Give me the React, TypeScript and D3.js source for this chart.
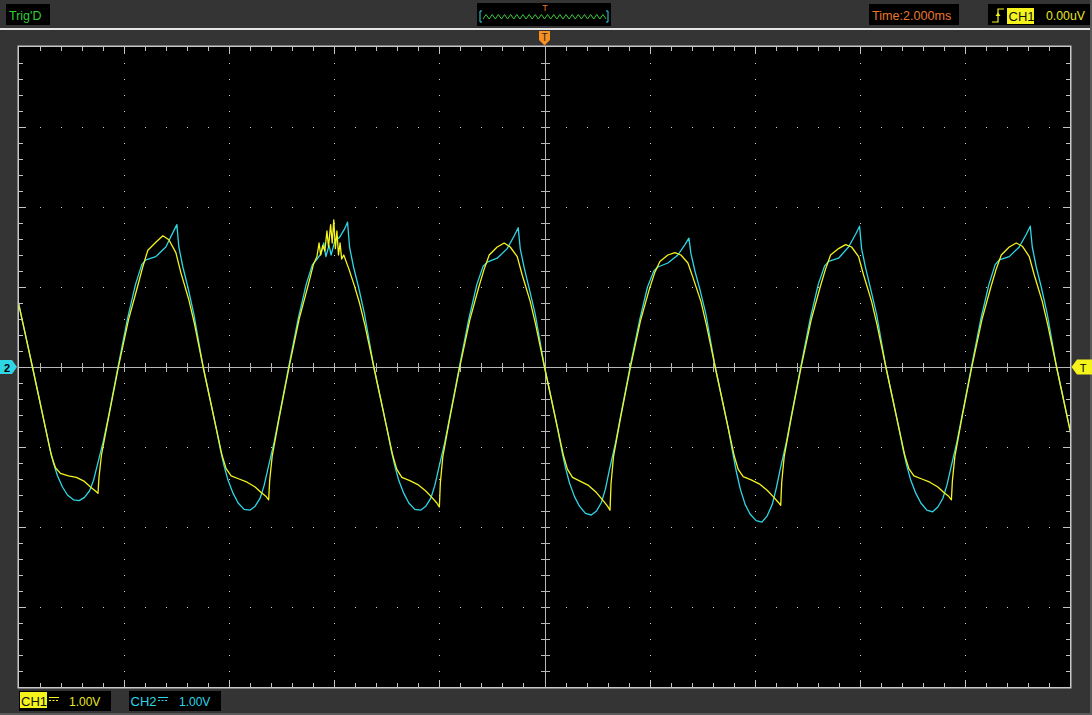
import React from "react";
import * as d3 from "d3";

// ---------- data ----------
const timeDomain: [number, number] = [-10, 10]; // ms  (2.000 ms / div, 10 div)
const voltDomain: [number, number] = [-4, 4]; // V   (1.00 V / div, 8 div)

const statusLabels = ["Trig'D", "Time:2.000ms", "CH1", "0.00uV"];
const channelNames = ["CH1", "CH2"];
const channelScales = ["1.00V", "1.00V"];

// CH1 (yellow) [time ms, volts]
const ch1Points: [number, number][] = [
  [-10.05, 0.92], [-9.9, 0.47],
  [-9.744, 0.0], [-9.63, -0.35], [-9.497, -0.76], [-9.382, -1.11], [-9.306, -1.26], [-9.211, -1.33],
  [-9.059, -1.36], [-8.907, -1.38], [-8.755, -1.43], [-8.64, -1.5], [-8.545, -1.55], [-8.497, -1.58],
  [-8.478, -1.38], [-8.431, -1.1], [-8.298, -0.64], [-8.108, 0.0], [-7.917, 0.59], [-7.746, 1.0],
  [-7.646, 1.25], [-7.548, 1.46], [-7.396, 1.56], [-7.263, 1.64], [-7.148, 1.59], [-7.015, 1.43],
  [-6.92, 1.18], [-6.768, 0.84], [-6.664, 0.55],
  [-6.496, 0.0], [-6.382, -0.35], [-6.249, -0.76], [-6.134, -1.11], [-6.058, -1.27], [-5.963, -1.36],
  [-5.811, -1.4], [-5.659, -1.44], [-5.507, -1.5], [-5.392, -1.57], [-5.297, -1.62], [-5.249, -1.66],
  [-5.23, -1.42], [-5.183, -1.12], [-5.05, -0.64], [-4.86, 0.0], [-4.669, 0.6], [-4.498, 1.02],
  [-4.398, 1.28], [-4.33, 1.38], [-4.29, 1.55], [-4.26, 1.4], [-4.22, 1.52], [-4.18, 1.45], [-4.14, 1.7],
  [-4.11, 1.5], [-4.07, 1.78], [-4.04, 1.55], [-4.01, 1.84], [-3.98, 1.48], [-3.95, 1.7], [-3.92, 1.4],
  [-3.89, 1.55], [-3.86, 1.35], [-3.82, 1.4], [-3.72, 1.22], [-3.62, 1.02], [-3.52, 0.8], [-3.416, 0.52],
  [-3.248, 0.0], [-3.134, -0.35], [-3.001, -0.76], [-2.886, -1.11], [-2.81, -1.28], [-2.715, -1.38],
  [-2.563, -1.42], [-2.411, -1.47], [-2.259, -1.55], [-2.144, -1.63], [-2.049, -1.7], [-2.001, -1.75],
  [-1.982, -1.45], [-1.935, -1.12], [-1.802, -0.64], [-1.612, 0.0], [-1.421, 0.59], [-1.25, 1.0],
  [-1.15, 1.22], [-1.052, 1.4], [-0.9, 1.5], [-0.767, 1.55], [-0.652, 1.5], [-0.519, 1.38],
  [-0.424, 1.15], [-0.272, 0.82], [-0.168, 0.53],
  [0.0, 0.0], [0.114, -0.35], [0.247, -0.76], [0.362, -1.11], [0.438, -1.28], [0.533, -1.38],
  [0.685, -1.43], [0.837, -1.48], [0.989, -1.57], [1.104, -1.66], [1.199, -1.74], [1.247, -1.79],
  [1.266, -1.46], [1.313, -1.12], [1.446, -0.64], [1.636, 0.0], [1.827, 0.58], [1.998, 0.98],
  [2.098, 1.18], [2.196, 1.32], [2.348, 1.4], [2.481, 1.43], [2.596, 1.4], [2.729, 1.3],
  [2.824, 1.12], [2.976, 0.82], [3.08, 0.53],
  [3.248, 0.0], [3.362, -0.35], [3.495, -0.76], [3.61, -1.11], [3.686, -1.28], [3.781, -1.37],
  [3.933, -1.41], [4.085, -1.46], [4.237, -1.54], [4.352, -1.62], [4.447, -1.69], [4.495, -1.73],
  [4.514, -1.44], [4.561, -1.12], [4.694, -0.64], [4.884, 0.0], [5.075, 0.59], [5.246, 1.0],
  [5.346, 1.22], [5.444, 1.4], [5.596, 1.48], [5.729, 1.53], [5.844, 1.5], [5.977, 1.38],
  [6.072, 1.15], [6.224, 0.82], [6.328, 0.53],
  [6.496, 0.0], [6.61, -0.35], [6.743, -0.76], [6.858, -1.11], [6.934, -1.27], [7.029, -1.36],
  [7.181, -1.4], [7.333, -1.44], [7.485, -1.5], [7.6, -1.57], [7.695, -1.62], [7.743, -1.66],
  [7.762, -1.42], [7.809, -1.12], [7.942, -0.64], [8.132, 0.0], [8.323, 0.59], [8.494, 1.0],
  [8.594, 1.22], [8.692, 1.4], [8.844, 1.5], [8.977, 1.55], [9.092, 1.51], [9.225, 1.38],
  [9.32, 1.15], [9.472, 0.82], [9.576, 0.53],
  [9.744, 0.0], [9.858, -0.35], [9.991, -0.76], [10.05, -0.95],
];

// CH2 (cyan) [time ms, volts]
const ch2Points: [number, number][] = [
  [-10.05, 0.92], [-9.9, 0.47],
  [-9.744, 0.0], [-9.63, -0.35], [-9.497, -0.76], [-9.414, -1.02], [-9.344, -1.2], [-9.268, -1.36],
  [-9.173, -1.5], [-9.078, -1.6], [-8.964, -1.66], [-8.854, -1.67], [-8.754, -1.63], [-8.659, -1.55],
  [-8.583, -1.42], [-8.507, -1.22], [-8.393, -0.92], [-8.298, -0.62], [-8.117, 0.0], [-7.936, 0.6],
  [-7.784, 1.03], [-7.664, 1.28], [-7.586, 1.34], [-7.396, 1.38], [-7.206, 1.5], [-7.072, 1.68],
  [-6.996, 1.78], [-6.958, 1.5], [-6.882, 1.25], [-6.787, 1.0], [-6.673, 0.66],
  [-6.496, 0.0], [-6.382, -0.35], [-6.249, -0.76], [-6.166, -1.04], [-6.096, -1.24], [-6.02, -1.42],
  [-5.925, -1.58], [-5.83, -1.7], [-5.716, -1.78], [-5.606, -1.79], [-5.506, -1.74], [-5.411, -1.64],
  [-5.335, -1.48], [-5.259, -1.26], [-5.145, -0.94], [-5.05, -0.62], [-4.869, 0.0], [-4.688, 0.6],
  [-4.536, 1.03], [-4.416, 1.28], [-4.338, 1.34], [-4.25, 1.42], [-4.2, 1.55], [-4.16, 1.38],
  [-4.1, 1.52], [-4.06, 1.4], [-3.99, 1.58], [-3.9, 1.62], [-3.81, 1.72], [-3.748, 1.81],
  [-3.71, 1.5], [-3.634, 1.25], [-3.539, 1.0], [-3.425, 0.66],
  [-3.248, 0.0], [-3.134, -0.35], [-3.001, -0.76], [-2.918, -1.04], [-2.848, -1.24], [-2.772, -1.42],
  [-2.677, -1.58], [-2.582, -1.7], [-2.468, -1.78], [-2.358, -1.79], [-2.258, -1.74], [-2.163, -1.64],
  [-2.087, -1.48], [-2.011, -1.26], [-1.897, -0.94], [-1.802, -0.62], [-1.621, 0.0], [-1.44, 0.6],
  [-1.288, 1.03], [-1.168, 1.26], [-1.09, 1.31], [-0.9, 1.36], [-0.71, 1.48], [-0.576, 1.64],
  [-0.5, 1.74], [-0.462, 1.48], [-0.386, 1.24], [-0.291, 0.98], [-0.177, 0.66],
  [0.0, 0.0], [0.114, -0.35], [0.247, -0.76], [0.33, -1.05], [0.4, -1.26], [0.476, -1.45],
  [0.571, -1.62], [0.666, -1.74], [0.78, -1.83], [0.89, -1.85], [0.99, -1.8], [1.085, -1.69],
  [1.161, -1.52], [1.237, -1.28], [1.351, -0.95], [1.446, -0.62], [1.627, 0.0], [1.808, 0.58],
  [1.96, 1.0], [2.08, 1.2], [2.158, 1.25], [2.348, 1.3], [2.538, 1.4], [2.672, 1.53],
  [2.748, 1.61], [2.786, 1.42], [2.862, 1.2], [2.957, 0.97], [3.071, 0.66],
  [3.248, 0.0], [3.362, -0.35], [3.495, -0.76], [3.578, -1.06], [3.648, -1.3], [3.724, -1.52],
  [3.819, -1.72], [3.914, -1.84], [4.028, -1.92], [4.138, -1.94], [4.238, -1.86], [4.333, -1.72],
  [4.409, -1.52], [4.485, -1.28], [4.599, -0.95], [4.694, -0.62], [4.875, 0.0], [5.056, 0.6],
  [5.208, 1.03], [5.328, 1.26], [5.406, 1.32], [5.596, 1.36], [5.786, 1.5], [5.92, 1.66],
  [5.996, 1.76], [6.034, 1.48], [6.11, 1.24], [6.205, 0.98], [6.319, 0.66],
  [6.496, 0.0], [6.61, -0.35], [6.743, -0.76], [6.826, -1.04], [6.896, -1.24], [6.972, -1.42],
  [7.067, -1.58], [7.162, -1.7], [7.276, -1.79], [7.386, -1.81], [7.486, -1.75], [7.581, -1.64],
  [7.657, -1.48], [7.733, -1.26], [7.847, -0.94], [7.942, -0.62], [8.123, 0.0], [8.304, 0.6],
  [8.456, 1.03], [8.576, 1.28], [8.654, 1.34], [8.844, 1.38], [9.034, 1.5], [9.168, 1.66],
  [9.244, 1.76], [9.282, 1.5], [9.358, 1.25], [9.453, 1.0], [9.567, 0.66],
  [9.744, 0.0], [9.858, -0.35], [9.991, -0.76], [10.05, -0.95],
];

// ---------- layout ----------
const W = 1092;
const H = 715;
const PX0 = 19;
const PX1 = 1070;
const PY0 = 47;
const PY1 = 687;
const BG = "#343434";
const GRID = "#c4c4c4";
const YELLOW = "#f4f41c";
const CYAN = "#2ed6e6";
const FONT = "'Liberation Sans', Arial, sans-serif";

export default function App() {
  const x = d3.scaleLinear().domain(timeDomain).range([PX0, PX1]);
  const y = d3.scaleLinear().domain(voltDomain).range([PY1, PY0]);

  const minorX = d3.range(timeDomain[0], timeDomain[1] + 1e-6, 0.4);
  const majorX = d3.range(timeDomain[0], timeDomain[1] + 1e-6, 2);
  const minorY = d3.range(voltDomain[0], voltDomain[1] + 1e-6, 0.2);
  const majorY = d3.range(voltDomain[0], voltDomain[1] + 1e-6, 1);
  const isMajor = (v: number, step: number) => Math.abs(v / step - Math.round(v / step)) < 1e-6;

  const line = d3
    .line<[number, number]>()
    .x((d) => x(d[0]))
    .y((d) => y(d[1]));

  const cx = x(0);
  const cy = y(0);

  // grid dots
  const dots: [number, number][] = [];
  majorY.forEach((v) => {
    if (Math.abs(v) < 1e-6 || v <= voltDomain[0] || v >= voltDomain[1]) return;
    minorX.forEach((t) => {
      if (t <= timeDomain[0] + 1e-6 || t >= timeDomain[1] - 1e-6 || Math.abs(t) < 1e-6) return;
      dots.push([Math.round(x(t)), Math.round(y(v))]);
    });
  });
  majorX.forEach((t) => {
    if (Math.abs(t) < 1e-6 || t <= timeDomain[0] || t >= timeDomain[1]) return;
    minorY.forEach((v) => {
      if (v <= voltDomain[0] + 1e-6 || v >= voltDomain[1] - 1e-6 || Math.abs(v) < 1e-6) return;
      if (isMajor(v, 1)) return;
      dots.push([Math.round(x(t)), Math.round(y(v))]);
    });
  });

  // trigger preview zigzag
  const zz: [number, number][] = [];
  for (let i = 0; i <= 40; i++) {
    zz.push([483 + (i * 123) / 40, i % 2 === 0 ? 19 : 14.5]);
  }

  const innerX = minorX.filter((t) => t > timeDomain[0] + 1e-6 && t < timeDomain[1] - 1e-6);
  const innerY = minorY.filter((v) => v > voltDomain[0] + 1e-6 && v < voltDomain[1] - 1e-6);

  return (
    <svg
      width={W}
      height={H}
      style={{ position: "absolute", left: 0, top: 0, display: "block" }}
      fontFamily={FONT}
    >
      <defs>
        <clipPath id="plotClip">
          <rect x={PX0} y={PY0} width={PX1 - PX0} height={PY1 - PY0} />
        </clipPath>
      </defs>
      <rect x={0} y={0} width={W} height={H} fill={BG} />
      {/* header separator */}
      <rect x={0} y={28} width={W} height={2} fill="#e6e6e6" />
      <rect x={W - 2} y={0} width={2} height={H} fill="#5a5a5a" />
      <rect x={0} y={H - 2} width={W} height={2} fill="#5a5a5a" />

      {/* status boxes */}
      <rect x={6} y={4} width={44} height={21} fill="#000" />
      <text x={9} y={19.5} fontSize={12.5} fill="#34cc34">{statusLabels[0]}</text>

      <rect x={477} y={3} width={134} height={23} fill="#000" />
      <text x={545} y={11} fontSize={9} fill="#e8782c" textAnchor="middle">T</text>
      <path d="M482,11 H480 V22 H482" fill="none" stroke={CYAN} strokeWidth={1} />
      <path d="M606,11 H608 V22 H606" fill="none" stroke={CYAN} strokeWidth={1} />
      <path d={d3.line()(zz) || ""} fill="none" stroke="#3cc83c" strokeWidth={1} />

      <rect x={869} y={4} width={90} height={21} fill="#000" />
      <text x={872} y={20} fontSize={12.6} fill="#e8782c">{statusLabels[1]}</text>

      <rect x={988} y={4} width={102} height={21} fill="#000" />
      <path d="M992,22 H998 V9 H1004" fill="none" stroke={YELLOW} strokeWidth={1.2} />
      <path d="M995.5,16 L998,12.5 L1000.5,16 Z" fill={YELLOW} />
      <rect x={1007} y={8} width={27} height={16} fill={YELLOW} />
      <text x={1008.5} y={21} fontSize={13} fill="#111">{statusLabels[2]}</text>
      <text x={1046} y={20} fontSize={12.3} fill="#e6e628">{statusLabels[3]}</text>

      {/* plot area */}
      <rect x={PX0} y={PY0} width={PX1 - PX0} height={PY1 - PY0} fill="#000" />
      <rect
        x={PX0 - 0.75}
        y={PY0 - 0.75}
        width={PX1 - PX0 + 1.5}
        height={PY1 - PY0 + 1.5}
        fill="none"
        stroke="#c8c8c8"
        strokeWidth={1.5}
      />

      {/* edge ticks */}
      <g stroke={GRID} strokeWidth={1}>
        {innerX.map((t, i) => {
          const xx = Math.round(x(t)) + 0.5;
          const len = isMajor(t, 2) ? 7 : 4;
          return (
            <g key={"tx" + i}>
              <line x1={xx} x2={xx} y1={PY0} y2={PY0 + len} />
              <line x1={xx} x2={xx} y1={PY1} y2={PY1 - len} />
            </g>
          );
        })}
        {innerY.map((v, i) => {
          const yy = Math.round(y(v)) + 0.5;
          const len = isMajor(v, 1) ? 7 : 4;
          return (
            <g key={"ty" + i}>
              <line x1={PX0} x2={PX0 + len} y1={yy} y2={yy} />
              <line x1={PX1} x2={PX1 - len} y1={yy} y2={yy} />
            </g>
          );
        })}
      </g>

      {/* dots */}
      <g fill="#d0d0d0">
        {dots.map((d, i) => (
          <rect key={"d" + i} x={d[0]} y={d[1]} width={1} height={1} />
        ))}
      </g>

      {/* center axes */}
      <g stroke="#b8b8b8" strokeWidth={1}>
        <line x1={PX0} x2={PX1} y1={Math.round(cy) + 0.5} y2={Math.round(cy) + 0.5} />
        <line x1={Math.round(cx) + 0.5} x2={Math.round(cx) + 0.5} y1={PY0} y2={PY1} />
        {innerX.map((t, i) =>
          Math.abs(t) < 1e-6 ? null : (
            <line
              key={"cxt" + i}
              x1={Math.round(x(t)) + 0.5}
              x2={Math.round(x(t)) + 0.5}
              y1={Math.round(cy) - 4}
              y2={Math.round(cy) + 5}
            />
          )
        )}
        {innerY.map((v, i) =>
          Math.abs(v) < 1e-6 ? null : (
            <line
              key={"cyt" + i}
              x1={Math.round(cx) - 4}
              x2={Math.round(cx) + 5}
              y1={Math.round(y(v)) + 0.5}
              y2={Math.round(y(v)) + 0.5}
            />
          )
        )}
      </g>

      {/* traces */}
      <g clipPath="url(#plotClip)" fill="none" strokeLinejoin="round">
        <path d={line(ch2Points) || ""} stroke={CYAN} strokeWidth={1.3} />
        <path d={line(ch1Points) || ""} stroke={YELLOW} strokeWidth={1.3} />
      </g>

      {/* markers */}
      <path d="M539,31 H550 V40 L544.5,45.5 L539,40 Z" fill="#f7901e" />
      <text x={544.5} y={41} fontSize={10} fill="#222" textAnchor="middle">T</text>

      <path d={`M0,${cy - 7} H12 L17,${cy} L12,${cy + 7} H0 Z`} fill={CYAN} />
      <text x={7} y={cy + 4.5} fontSize={11} fontWeight="bold" fill="#000" textAnchor="middle">2</text>

      <path d={`M${W},${cy - 7.5} H1077 L1071.5,${cy} L1077,${cy + 7.5} H${W} Z`} fill={YELLOW} />
      <text x={1083} y={cy + 4.5} fontSize={11} fill="#000" textAnchor="middle">T</text>

      {/* channel status */}
      <rect x={19} y={691} width={92} height={20} fill="#000" />
      <rect x={20} y={692} width={27} height={16} fill={YELLOW} />
      <text x={21} y={705.5} fontSize={13} fill="#111">{channelNames[0]}</text>
      <line x1={49} x2={59} y1={697.5} y2={697.5} stroke={YELLOW} strokeWidth={1} />
      <line x1={49} x2={59} y1={700.5} y2={700.5} stroke={YELLOW} strokeWidth={1} strokeDasharray="2,1.5" />
      <text x={69} y={705.5} fontSize={12} fill="#e6e628">{channelScales[0]}</text>

      <rect x={129} y={691} width={92} height={20} fill="#000" />
      <text x={130.5} y={705.5} fontSize={13} fill={CYAN}>{channelNames[1]}</text>
      <line x1={158} x2={168} y1={697.5} y2={697.5} stroke={CYAN} strokeWidth={1} />
      <line x1={158} x2={168} y1={700.5} y2={700.5} stroke={CYAN} strokeWidth={1} strokeDasharray="2,1.5" />
      <text x={179} y={705.5} fontSize={12} fill={CYAN}>{channelScales[1]}</text>
    </svg>
  );
}
